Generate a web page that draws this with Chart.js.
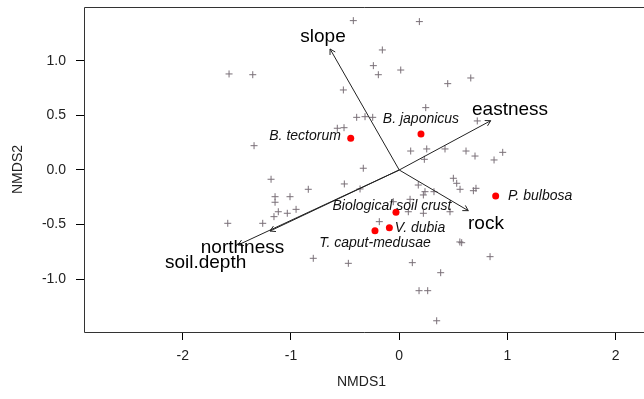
<!DOCTYPE html>
<html>
<head>
<meta charset="utf-8">
<script src="https://cdn.jsdelivr.net/npm/chart.js@4/dist/chart.umd.min.js"></script>
<style>
html, body { margin:0; padding:0; background:#fff; overflow:hidden; }
</style>
</head>
<body>
<canvas id="grafico" width="644" height="399"></canvas>
<script>
// sitios (cruces grises) en NMDS1 / NMDS2
var sitiosX = [-0.424, -1.572, -1.353, -0.516, -0.393, -0.316, -0.572, -0.510, -1.341, -0.332,
  0.186, -0.156, -0.239, -0.193, 0.014, 0.448, 0.661, 0.245, -0.245, 0.721,
  0.106, 0.254, 0.423, 0.232, 0.617, 0.700, 0.876, 0.956, -1.184, -0.840,
  -0.507, -1.147, -1.147, -1.009, -1.117, -1.034, -0.953, -1.157, -1.261, -1.584,
  -0.794, -0.470, -0.362, 0.176, 0.238, 0.223, 0.321, 0.100, 0.084, 0.223,
  -0.055, 0.469, 0.500, 0.531, 0.562, 0.685, 0.709, -0.184, 0.577, 0.560,
  0.839, 0.121, 0.383, 0.183, 0.263, 0.346];
var sitiosY = [1.370, 0.881, 0.874, 0.734, 0.483, 0.489, 0.383, 0.388, 0.223, 0.016,
  1.361, 1.101, 0.957, 0.874, 0.917, 0.792, 0.844, 0.572, 0.483, 0.450,
  0.174, 0.193, 0.193, 0.098, 0.174, 0.128, 0.092, 0.162, -0.085, -0.177,
  -0.128, -0.245, -0.296, -0.245, -0.383, -0.397, -0.361, -0.428, -0.489, -0.489,
  -0.810, -0.856, -0.174, -0.138, -0.199, -0.229, -0.199, -0.269, -0.383, -0.397,
  -0.291, -0.383, -0.076, -0.122, -0.177, -0.190, -0.168, -0.474, -0.667, -0.660,
  -0.795, -0.850, -0.942, -1.107, -1.107, -1.383];

// especies (puntos rojos)
var especies = ['B. tectorum', 'B. japonicus', 'P. bulbosa', 'Biological soil crust', 'V. dubia', 'T. caput-medusae'];
var especiesX = [-0.448, 0.201, 0.891, -0.030, -0.091, -0.224];
var especiesY = [0.291, 0.330, -0.239, -0.388, -0.529, -0.557];
var especiesTxtX = [-0.870, 0.201, 1.301, -0.067, 0.192, -0.224];
var especiesTxtY = [0.312, 0.468, -0.239, -0.330, -0.532, -0.670];

// vectores ambientales (envfit)
var vectores = ['slope', 'eastness', 'rock', 'northness', 'soil.depth'];
var vectoresX = [-0.639, 0.845, 0.638, -1.194, -1.489];
var vectoresY = [1.110, 0.452, -0.373, -0.560, -0.688];
var vectoresTxtX = [-0.704, 1.024, 0.801, -1.448, -1.789];
var vectoresTxtY = [1.220, 0.550, -0.495, -0.709, -0.850];

var ticksX = [-2, -1, 0, 1, 2];
var ticksY = [-1, -0.5, 0, 0.5, 1];

function puntos(xs, ys) {
  var res = [];
  for (var i = 0; i < xs.length; i++) res.push({x: xs[i], y: ys[i]});
  return res;
}

function flecha(ctx, x0, y0, x1, y1) {
  ctx.beginPath();
  ctx.moveTo(x0, y0);
  ctx.lineTo(x1, y1);
  ctx.stroke();
  var ang = Math.atan2(y1 - y0, x1 - x0);
  var l = 6;
  ctx.beginPath();
  ctx.moveTo(x1 - l * Math.cos(ang - Math.PI / 6), y1 - l * Math.sin(ang - Math.PI / 6));
  ctx.lineTo(x1, y1);
  ctx.lineTo(x1 - l * Math.cos(ang + Math.PI / 6), y1 - l * Math.sin(ang + Math.PI / 6));
  ctx.stroke();
}

var ordiplot = {
  id: 'ordiplot',
  beforeDatasetsDraw: function(chart) {
    // recuadro abierto a la derecha (el original esta cortado)
    var ctx = chart.ctx, a = chart.chartArea;
    ctx.save();
    ctx.strokeStyle = '#333';
    ctx.lineWidth = 1;
    ctx.beginPath();
    ctx.moveTo(chart.width, a.top + 0.5);
    ctx.lineTo(a.left + 0.5, a.top + 0.5);
    ctx.lineTo(a.left + 0.5, a.bottom + 0.5);
    ctx.lineTo(chart.width, a.bottom + 0.5);
    ctx.stroke();
    ctx.restore();
  },
  afterDatasetsDraw: function(chart) {
    var ctx = chart.ctx;
    var sx = chart.scales.x, sy = chart.scales.y;
    var x0 = sx.getPixelForValue(0), y0 = sy.getPixelForValue(0);
    ctx.save();
    ctx.strokeStyle = '#222';
    ctx.lineWidth = 1;
    for (var i = 0; i < vectores.length; i++) {
      flecha(ctx, x0, y0, sx.getPixelForValue(vectoresX[i]), sy.getPixelForValue(vectoresY[i]));
    }
    ctx.fillStyle = '#000';
    ctx.textAlign = 'center';
    ctx.textBaseline = 'middle';
    ctx.font = '19px "Liberation Sans", Arial, sans-serif';
    for (i = 0; i < vectores.length; i++) {
      ctx.fillText(vectores[i], sx.getPixelForValue(vectoresTxtX[i]), sy.getPixelForValue(vectoresTxtY[i]));
    }
    ctx.font = 'italic 14px "Liberation Sans", Arial, sans-serif';
    ctx.fillStyle = '#111';
    for (i = 0; i < especies.length; i++) {
      ctx.fillText(especies[i], sx.getPixelForValue(especiesTxtX[i]), sy.getPixelForValue(especiesTxtY[i]));
    }
    ctx.restore();
  }
};

var fuente = {family: '"Liberation Sans", Arial, sans-serif', size: 14};

var grafico = new Chart(document.getElementById('grafico').getContext('2d'), {
  type: 'scatter',
  data: {
    datasets: [{
      label: 'sitios',
      data: puntos(sitiosX, sitiosY),
      pointStyle: 'cross',
      pointRadius: 3.5,
      borderColor: '#7a7078',
      borderWidth: 1
    }, {
      label: 'especies',
      data: puntos(especiesX, especiesY),
      pointStyle: 'circle',
      pointRadius: 3.5,
      backgroundColor: '#ff0000',
      borderColor: '#ff0000',
      borderWidth: 0
    }]
  },
  options: {
    responsive: false,
    animation: false,
    layout: { padding: {top: 7, right: 0, bottom: 0, left: 0} },
    plugins: { legend: {display: false}, tooltip: {enabled: false} },
    scales: {
      x: {
        type: 'linear',
        min: -2.912,
        max: 2.215,
        afterBuildTicks: function(s) { s.ticks = ticksX.map(function(v) { return {value: v}; }); },
        afterFit: function(s) { s.height = 67; s.paddingLeft = 0; s.paddingRight = 0; },
        grid: { drawOnChartArea: false, drawTicks: true, tickLength: 8, tickColor: '#000' },
        border: { display: false },
        ticks: { color: '#222', font: fuente, padding: 8, maxRotation: 0,
          callback: function(v) { return String(v); } },
        title: { display: true, text: 'NMDS1', color: '#222', font: fuente, padding: {top: 0, bottom: 8.6} }
      },
      y: {
        type: 'linear',
        min: -1.486,
        max: 1.495,
        afterBuildTicks: function(s) { s.ticks = ticksY.map(function(v) { return {value: v}; }); },
        afterFit: function(s) { s.width = 84; s.paddingTop = 0; s.paddingBottom = 0; },
        grid: { drawOnChartArea: false, drawTicks: true, tickLength: 8, tickColor: '#000' },
        border: { display: false },
        ticks: { color: '#222', font: fuente, padding: 10,
          callback: function(v) { return v.toFixed(1); } },
        title: { display: true, text: 'NMDS2', color: '#222', font: fuente, padding: {top: 9.6, bottom: 0} }
      }
    }
  },
  plugins: [ordiplot]
});
</script>
</body>
</html>
